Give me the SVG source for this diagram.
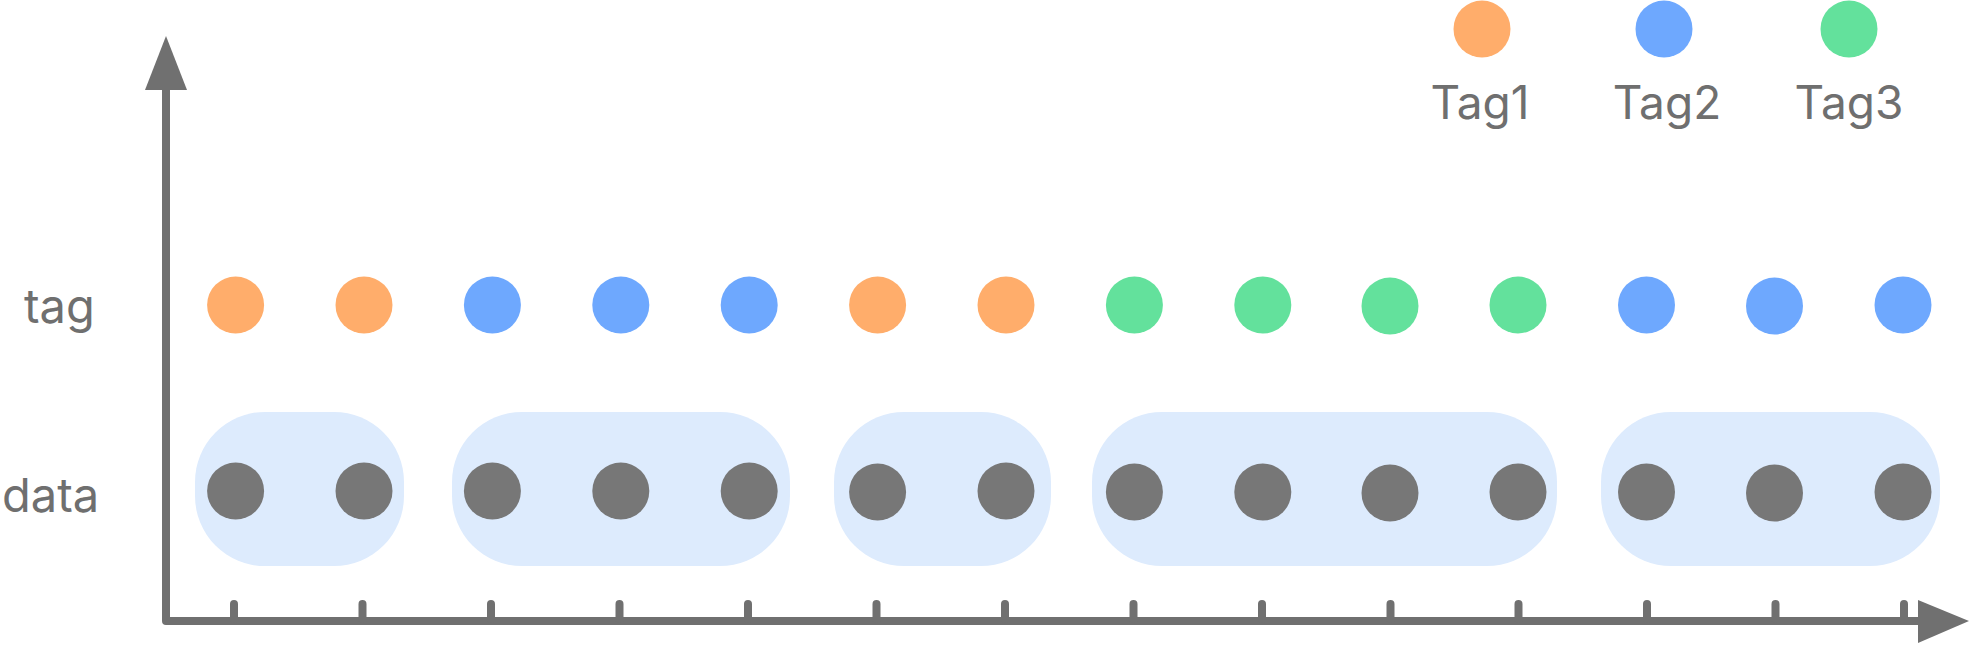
<svg xmlns="http://www.w3.org/2000/svg" width="1971" height="645" viewBox="0 0 1971 645">
<style>
.lbl{font-family:Inter,"Noto Sans","Liberation Sans",sans-serif;font-size:47px;fill:#6f6f6f}
.leg{font-family:Inter,"Noto Sans","Liberation Sans",sans-serif;font-size:46px;fill:#6f6f6f}
.t1{fill:#FFAD6B}.t2{fill:#6EA8FE}.t3{fill:#63E19C}.d{fill:#777777}
.box{fill:#DDEBFD}
.tick{stroke:#707070;stroke-width:8;stroke-linecap:round;fill:none}
</style>
<rect width="1971" height="645" fill="#ffffff"/>
<g id="legend">
<circle class="t1" cx="1482" cy="29" r="28.5"/>
<circle class="t2" cx="1664" cy="29" r="28.5"/>
<circle class="t3" cx="1849" cy="29" r="28.5"/>
<text class="leg" x="1480" y="119" text-anchor="middle">Tag1</text>
<text class="leg" x="1667" y="119" text-anchor="middle">Tag2</text>
<text class="leg" x="1849" y="119" text-anchor="middle">Tag3</text>
</g>
<g id="labels">
<text class="lbl" x="24" y="323">tag</text>
<text class="lbl" x="2" y="512">data</text>
</g>
<g id="groups">
<rect class="box" x="195" y="412" width="209" height="154" rx="70" ry="70"/>
<rect class="box" x="452" y="412" width="338" height="154" rx="70" ry="70"/>
<rect class="box" x="834" y="412" width="217" height="154" rx="70" ry="70"/>
<rect class="box" x="1092" y="412" width="465" height="154" rx="70" ry="70"/>
<rect class="box" x="1601" y="412" width="339" height="154" rx="70" ry="70"/>
</g>
<g id="tags">
<circle class="t1" cx="235.6" cy="305" r="28.5"/>
<circle class="t1" cx="364" cy="305" r="28.5"/>
<circle class="t2" cx="492.4" cy="305" r="28.5"/>
<circle class="t2" cx="620.8" cy="305" r="28.5"/>
<circle class="t2" cx="749.2" cy="305" r="28.5"/>
<circle class="t1" cx="877.6" cy="305" r="28.5"/>
<circle class="t1" cx="1006" cy="305" r="28.5"/>
<circle class="t3" cx="1134.4" cy="305" r="28.5"/>
<circle class="t3" cx="1262.8" cy="305" r="28.5"/>
<circle class="t3" cx="1390" cy="306" r="28.5"/>
<circle class="t3" cx="1518" cy="305" r="28.5"/>
<circle class="t2" cx="1646.5" cy="305" r="28.5"/>
<circle class="t2" cx="1774.5" cy="306" r="28.5"/>
<circle class="t2" cx="1903" cy="305" r="28.5"/>
</g>
<g id="data">
<circle class="d" cx="235.6" cy="491" r="28.5"/>
<circle class="d" cx="364" cy="491" r="28.5"/>
<circle class="d" cx="492.4" cy="491" r="28.5"/>
<circle class="d" cx="620.8" cy="491" r="28.5"/>
<circle class="d" cx="749.2" cy="491" r="28.5"/>
<circle class="d" cx="877.6" cy="492" r="28.5"/>
<circle class="d" cx="1006" cy="491" r="28.5"/>
<circle class="d" cx="1134.4" cy="492" r="28.5"/>
<circle class="d" cx="1262.8" cy="492" r="28.5"/>
<circle class="d" cx="1390" cy="493" r="28.5"/>
<circle class="d" cx="1518" cy="492" r="28.5"/>
<circle class="d" cx="1646.5" cy="492" r="28.5"/>
<circle class="d" cx="1774.5" cy="493" r="28.5"/>
<circle class="d" cx="1903" cy="492" r="28.5"/>
</g>
<g id="axes">
<polyline points="166,88 166,621 1920,621" fill="none" stroke="#707070" stroke-width="8" stroke-linejoin="round" stroke-linecap="butt"/>
<polygon points="166,36 187,90 145,90" fill="#707070"/>
<polygon points="1969,621 1918,600 1918,643" fill="#707070"/>
<path class="tick" d="M234,604V619M362.5,604V619M491,604V619M619.5,604V619M748,604V619M876.5,604V619M1005,604V619M1133.5,604V619M1262,604V619M1390.5,604V619M1518.5,604V619M1647,604V619M1775.5,604V619M1904,604V619"/>
</g>
</svg>
